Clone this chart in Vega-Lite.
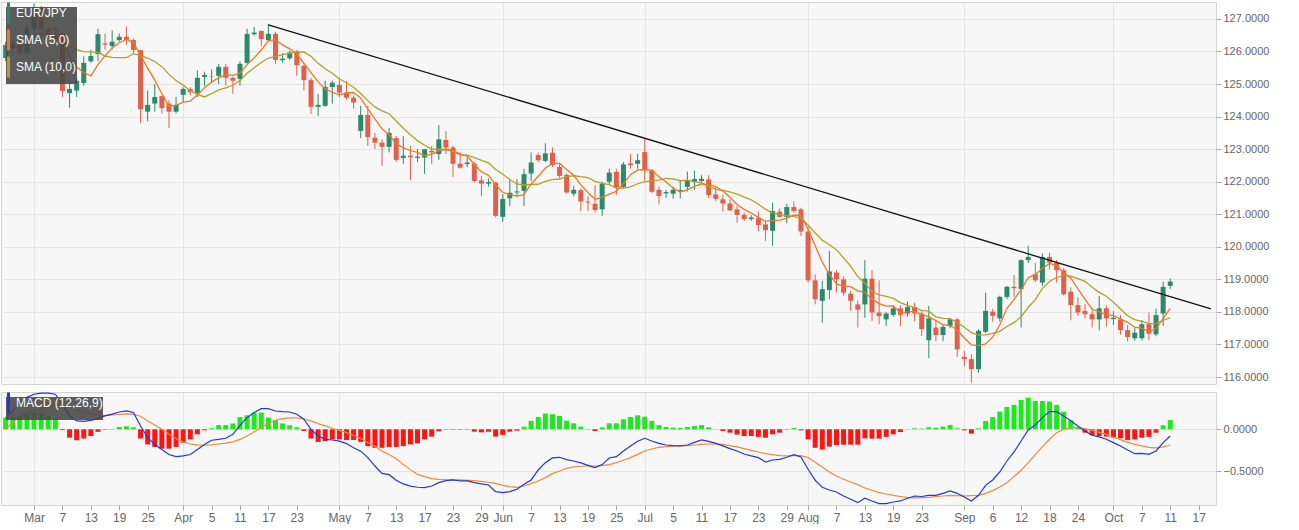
{
  "$schema": "https://vega.github.io/schema/vega-lite/v6.json",
  "background": "white",
  "padding": {"left": 0, "top": 1, "right": 0, "bottom": 0},
  "spacing": 8,
  "bounds": "flush",
  "config": {
    "font": "Liberation Sans",
    "view": {"fill": "#f7f7f7", "stroke": "#d4d4d4", "strokeWidth": 1},
    "axis": {"labelColor": "#666666", "labelFontSize": 12, "labelFont": "Liberation Sans", "tickColor": "#aaaaaa", "domain": false, "gridColor": "#e4e4e4", "title": null, "tickSize": 5, "labelPadding": 2},
    "legend": {"titleFontSize": 0}
  },
  "datasets": {
    "candles": [
      {"i":-4,"o":125.8,"h":126.3,"l":125.7,"c":126.2,"m":0.139,"s":0.0,"hg":0.139},
      {"i":-3,"o":126.1,"h":126.4,"l":125.9,"c":126.25,"m":0.22,"s":0.08,"hg":0.14},
      {"i":-2,"o":126.2,"h":126.35,"l":125.85,"c":125.95,"m":0.32,"s":0.16,"hg":0.16},
      {"i":-1,"o":125.95,"h":126.85,"l":125.9,"c":126.7,"m":0.38,"s":0.2,"hg":0.18},
      {"i":0,"o":126.7,"h":127.47,"l":126.6,"c":127.35,"m":0.417,"s":0.22,"hg":0.2},
      {"i":1,"o":127.35,"h":127.4,"l":126.65,"c":126.7,"m":0.43,"s":0.24,"hg":0.19},
      {"i":2,"o":126.7,"h":126.8,"l":126.4,"c":126.5,"m":0.43,"s":0.27,"hg":0.16},
      {"i":3,"o":126.53,"h":126.72,"l":126.3,"c":126.38,"m":0.417,"s":0.29,"hg":0.127},
      {"i":4,"o":126.54,"h":126.6,"l":124.6,"c":124.79,"m":0.3,"s":0.29,"hg":-0.01},
      {"i":5,"o":124.72,"h":125.1,"l":124.27,"c":124.85,"m":0.16,"s":0.26,"hg":-0.1},
      {"i":6,"o":124.8,"h":125.2,"l":124.6,"c":125.1,"m":0.1,"s":0.23,"hg":-0.13},
      {"i":7,"o":125.03,"h":125.85,"l":124.95,"c":125.65,"m":0.095,"s":0.21,"hg":-0.11},
      {"i":8,"o":125.7,"h":126.05,"l":125.65,"c":125.86,"m":0.107,"s":0.19,"hg":-0.08},
      {"i":9,"o":125.92,"h":126.7,"l":125.7,"c":126.53,"m":0.13,"s":0.17,"hg":-0.03},
      {"i":10,"o":126.25,"h":126.55,"l":126.05,"c":126.21,"m":0.16,"s":0.165,"hg":-0.005},
      {"i":11,"o":126.17,"h":126.65,"l":126.05,"c":126.3,"m":0.18,"s":0.17,"hg":0.005},
      {"i":12,"o":126.35,"h":126.55,"l":126.3,"c":126.45,"m":0.206,"s":0.178,"hg":0.028},
      {"i":13,"o":126.45,"h":126.77,"l":126.2,"c":126.35,"m":0.22,"s":0.184,"hg":0.036},
      {"i":14,"o":126.35,"h":126.4,"l":125.95,"c":126.05,"m":0.2,"s":0.18,"hg":0.024},
      {"i":15,"o":126.04,"h":126.05,"l":123.8,"c":124.23,"m":0.04,"s":0.155,"hg":-0.11},
      {"i":16,"o":124.15,"h":124.8,"l":123.85,"c":124.36,"m":-0.1,"s":0.1,"hg":-0.18},
      {"i":17,"o":124.4,"h":125.0,"l":124.15,"c":124.6,"m":-0.18,"s":0.05,"hg":-0.21},
      {"i":18,"o":124.63,"h":124.65,"l":124.1,"c":124.26,"m":-0.24,"s":0.0,"hg":-0.23},
      {"i":19,"o":124.4,"h":124.5,"l":123.65,"c":124.15,"m":-0.3,"s":-0.06,"hg":-0.23},
      {"i":20,"o":124.15,"h":124.6,"l":124.1,"c":124.36,"m":-0.325,"s":-0.11,"hg":-0.21},
      {"i":21,"o":124.67,"h":124.9,"l":124.45,"c":124.85,"m":-0.317,"s":-0.15,"hg":-0.16},
      {"i":22,"o":124.85,"h":124.9,"l":124.65,"c":124.75,"m":-0.3,"s":-0.175,"hg":-0.12},
      {"i":23,"o":124.73,"h":125.42,"l":124.6,"c":125.19,"m":-0.24,"s":-0.185,"hg":-0.06},
      {"i":24,"o":125.22,"h":125.38,"l":124.95,"c":125.28,"m":-0.18,"s":-0.19,"hg":-0.012},
      {"i":25,"o":125.22,"h":125.45,"l":125.05,"c":125.23,"m":-0.13,"s":-0.185,"hg":0.012},
      {"i":26,"o":125.25,"h":125.62,"l":125.0,"c":125.53,"m":-0.12,"s":-0.175,"hg":0.05},
      {"i":27,"o":125.53,"h":125.62,"l":124.95,"c":125.19,"m":-0.107,"s":-0.165,"hg":0.05},
      {"i":28,"o":125.19,"h":125.22,"l":124.7,"c":125.1,"m":-0.06,"s":-0.15,"hg":0.07},
      {"i":29,"o":125.16,"h":125.7,"l":124.95,"c":125.62,"m":0.048,"s":-0.12,"hg":0.147},
      {"i":30,"o":125.65,"h":126.7,"l":125.6,"c":126.54,"m":0.139,"s":-0.08,"hg":0.167},
      {"i":31,"o":126.53,"h":126.75,"l":126.48,"c":126.58,"m":0.2,"s":-0.03,"hg":0.2},
      {"i":32,"o":126.63,"h":126.65,"l":126.17,"c":126.38,"m":0.246,"s":0.02,"hg":0.2},
      {"i":33,"o":126.35,"h":126.85,"l":126.3,"c":126.54,"m":0.246,"s":0.07,"hg":0.14},
      {"i":34,"o":126.54,"h":126.6,"l":125.62,"c":125.74,"m":0.218,"s":0.107,"hg":0.11},
      {"i":35,"o":125.73,"h":125.95,"l":125.65,"c":125.78,"m":0.21,"s":0.127,"hg":0.07},
      {"i":36,"o":125.79,"h":126.02,"l":125.73,"c":125.97,"m":0.206,"s":0.135,"hg":0.048},
      {"i":37,"o":126.0,"h":126.05,"l":125.25,"c":125.58,"m":0.18,"s":0.135,"hg":0.024},
      {"i":38,"o":125.56,"h":125.6,"l":124.8,"c":125.12,"m":0.12,"s":0.123,"hg":-0.02},
      {"i":39,"o":125.12,"h":125.19,"l":124.08,"c":124.3,"m":0.0,"s":0.1,"hg":-0.11},
      {"i":40,"o":124.3,"h":124.7,"l":124.02,"c":124.36,"m":-0.08,"s":0.067,"hg":-0.15},
      {"i":41,"o":124.33,"h":125.1,"l":124.3,"c":124.91,"m":-0.12,"s":0.04,"hg":-0.14},
      {"i":42,"o":124.91,"h":125.1,"l":124.4,"c":125.04,"m":-0.127,"s":0.012,"hg":-0.12},
      {"i":43,"o":124.97,"h":125.2,"l":124.6,"c":124.74,"m":-0.14,"s":-0.012,"hg":-0.12},
      {"i":44,"o":124.74,"h":125.1,"l":124.52,"c":124.58,"m":-0.17,"s":-0.04,"hg":-0.127},
      {"i":45,"o":124.58,"h":124.65,"l":124.25,"c":124.43,"m":-0.22,"s":-0.07,"hg":-0.127},
      {"i":46,"o":123.56,"h":124.33,"l":123.34,"c":124.05,"m":-0.26,"s":-0.11,"hg":-0.15},
      {"i":47,"o":124.05,"h":124.33,"l":123.1,"c":123.37,"m":-0.337,"s":-0.16,"hg":-0.2},
      {"i":48,"o":123.35,"h":123.5,"l":123.0,"c":123.2,"m":-0.437,"s":-0.2,"hg":-0.22},
      {"i":49,"o":123.2,"h":123.3,"l":122.48,"c":123.07,"m":-0.524,"s":-0.26,"hg":-0.22},
      {"i":50,"o":123.07,"h":123.65,"l":122.9,"c":123.5,"m":-0.54,"s":-0.3,"hg":-0.21},
      {"i":51,"o":123.34,"h":123.4,"l":122.6,"c":122.67,"m":-0.607,"s":-0.35,"hg":-0.21},
      {"i":52,"o":122.73,"h":123.4,"l":122.55,"c":122.8,"m":-0.65,"s":-0.42,"hg":-0.2},
      {"i":53,"o":122.8,"h":123.1,"l":122.05,"c":122.75,"m":-0.677,"s":-0.48,"hg":-0.18},
      {"i":54,"o":122.73,"h":123.0,"l":122.6,"c":122.77,"m":-0.69,"s":-0.536,"hg":-0.167},
      {"i":55,"o":122.74,"h":123.0,"l":122.24,"c":123.0,"m":-0.694,"s":-0.563,"hg":-0.12},
      {"i":56,"o":122.95,"h":123.1,"l":122.55,"c":122.9,"m":-0.675,"s":-0.587,"hg":-0.087},
      {"i":57,"o":122.85,"h":123.74,"l":122.67,"c":123.3,"m":-0.635,"s":-0.595,"hg":-0.024},
      {"i":58,"o":123.28,"h":123.55,"l":122.85,"c":123.05,"m":-0.611,"s":-0.6,"hg":-0.004},
      {"i":59,"o":123.05,"h":123.1,"l":122.15,"c":122.55,"m":-0.603,"s":-0.603,"hg":-0.005},
      {"i":60,"o":122.55,"h":122.9,"l":122.4,"c":122.43,"m":-0.615,"s":-0.603,"hg":-0.005},
      {"i":61,"o":122.54,"h":122.75,"l":122.45,"c":122.59,"m":-0.615,"s":-0.607,"hg":-0.004},
      {"i":62,"o":122.55,"h":122.6,"l":121.98,"c":122.02,"m":-0.635,"s":-0.61,"hg":-0.028},
      {"i":63,"o":122.04,"h":122.18,"l":121.56,"c":121.94,"m":-0.65,"s":-0.62,"hg":-0.036},
      {"i":64,"o":121.94,"h":122.1,"l":121.85,"c":121.99,"m":-0.663,"s":-0.63,"hg":-0.028},
      {"i":65,"o":121.97,"h":122.0,"l":120.9,"c":120.95,"m":-0.742,"s":-0.643,"hg":-0.087},
      {"i":66,"o":120.92,"h":121.62,"l":120.77,"c":121.47,"m":-0.754,"s":-0.667,"hg":-0.067},
      {"i":67,"o":121.49,"h":122.05,"l":121.25,"c":121.66,"m":-0.742,"s":-0.683,"hg":-0.028},
      {"i":68,"o":121.67,"h":122.08,"l":121.55,"c":121.7,"m":-0.714,"s":-0.69,"hg":-0.016},
      {"i":69,"o":121.72,"h":122.4,"l":121.25,"c":122.23,"m":-0.655,"s":-0.675,"hg":0.032},
      {"i":70,"o":122.25,"h":122.9,"l":122.02,"c":122.59,"m":-0.603,"s":-0.647,"hg":0.1},
      {"i":71,"o":122.82,"h":122.9,"l":122.6,"c":122.66,"m":-0.484,"s":-0.615,"hg":0.147},
      {"i":72,"o":122.64,"h":123.18,"l":122.6,"c":122.87,"m":-0.397,"s":-0.575,"hg":0.187},
      {"i":73,"o":122.89,"h":123.05,"l":122.45,"c":122.51,"m":-0.341,"s":-0.528,"hg":0.18},
      {"i":74,"o":122.45,"h":122.55,"l":122.1,"c":122.18,"m":-0.333,"s":-0.496,"hg":0.16},
      {"i":75,"o":122.21,"h":122.25,"l":121.63,"c":121.67,"m":-0.361,"s":-0.464,"hg":0.103},
      {"i":76,"o":121.63,"h":121.88,"l":121.55,"c":121.75,"m":-0.377,"s":-0.448,"hg":0.071},
      {"i":77,"o":121.74,"h":121.8,"l":121.1,"c":121.39,"m":-0.4,"s":-0.44,"hg":0.032},
      {"i":78,"o":121.39,"h":121.55,"l":121.1,"c":121.36,"m":-0.429,"s":-0.437,"hg":0.004},
      {"i":79,"o":121.32,"h":121.9,"l":121.05,"c":121.13,"m":-0.456,"s":-0.437,"hg":-0.02},
      {"i":80,"o":121.15,"h":122.0,"l":120.95,"c":121.94,"m":-0.42,"s":-0.433,"hg":0.024},
      {"i":81,"o":122.0,"h":122.4,"l":121.9,"c":122.28,"m":-0.341,"s":-0.42,"hg":0.071},
      {"i":82,"o":122.3,"h":122.4,"l":121.6,"c":121.82,"m":-0.325,"s":-0.397,"hg":0.071},
      {"i":83,"o":121.84,"h":122.6,"l":121.8,"c":122.53,"m":-0.258,"s":-0.369,"hg":0.12},
      {"i":84,"o":122.56,"h":122.86,"l":122.4,"c":122.51,"m":-0.198,"s":-0.337,"hg":0.147},
      {"i":85,"o":122.55,"h":122.86,"l":122.4,"c":122.66,"m":-0.143,"s":-0.298,"hg":0.167},
      {"i":86,"o":122.91,"h":123.33,"l":122.02,"c":122.35,"m":-0.107,"s":-0.258,"hg":0.15},
      {"i":87,"o":122.35,"h":122.38,"l":121.65,"c":121.69,"m":-0.139,"s":-0.234,"hg":0.1},
      {"i":88,"o":121.75,"h":121.85,"l":121.3,"c":121.56,"m":-0.167,"s":-0.214,"hg":0.05},
      {"i":89,"o":121.64,"h":121.75,"l":121.5,"c":121.68,"m":-0.187,"s":-0.206,"hg":0.028},
      {"i":90,"o":121.63,"h":121.85,"l":121.48,"c":121.75,"m":-0.194,"s":-0.202,"hg":0.02},
      {"i":91,"o":121.7,"h":122.05,"l":121.48,"c":121.74,"m":-0.198,"s":-0.198,"hg":0.016},
      {"i":92,"o":121.84,"h":122.31,"l":121.7,"c":122.02,"m":-0.187,"s":-0.194,"hg":0.028},
      {"i":93,"o":122.0,"h":122.34,"l":121.75,"c":122.08,"m":-0.155,"s":-0.187,"hg":0.04},
      {"i":94,"o":122.02,"h":122.2,"l":121.98,"c":122.09,"m":-0.127,"s":-0.179,"hg":0.05},
      {"i":95,"o":122.07,"h":122.2,"l":121.5,"c":121.59,"m":-0.143,"s":-0.175,"hg":0.024},
      {"i":96,"o":121.61,"h":121.85,"l":121.4,"c":121.47,"m":-0.167,"s":-0.175,"hg":0.003},
      {"i":97,"o":121.46,"h":121.6,"l":121.08,"c":121.33,"m":-0.198,"s":-0.179,"hg":-0.02},
      {"i":98,"o":121.33,"h":121.45,"l":121.1,"c":121.12,"m":-0.23,"s":-0.194,"hg":-0.04},
      {"i":99,"o":121.15,"h":121.25,"l":120.74,"c":120.98,"m":-0.258,"s":-0.21,"hg":-0.063},
      {"i":100,"o":120.98,"h":121.05,"l":120.8,"c":120.85,"m":-0.294,"s":-0.23,"hg":-0.08},
      {"i":101,"o":120.85,"h":120.97,"l":120.8,"c":120.9,"m":-0.317,"s":-0.25,"hg":-0.08},
      {"i":102,"o":120.88,"h":121.08,"l":120.47,"c":120.67,"m":-0.337,"s":-0.27,"hg":-0.09},
      {"i":103,"o":120.69,"h":120.8,"l":120.18,"c":120.51,"m":-0.389,"s":-0.29,"hg":-0.1},
      {"i":104,"o":120.49,"h":121.36,"l":120.03,"c":121.1,"m":-0.365,"s":-0.302,"hg":-0.06},
      {"i":105,"o":121.08,"h":121.18,"l":120.9,"c":120.92,"m":-0.357,"s":-0.313,"hg":-0.04},
      {"i":106,"o":120.92,"h":121.32,"l":120.72,"c":121.22,"m":-0.333,"s":-0.317,"hg":-0.004},
      {"i":107,"o":121.22,"h":121.39,"l":121.05,"c":121.1,"m":-0.302,"s":-0.313,"hg":0.016},
      {"i":108,"o":121.15,"h":121.2,"l":120.33,"c":120.47,"m":-0.33,"s":-0.313,"hg":-0.012},
      {"i":109,"o":120.47,"h":120.6,"l":118.9,"c":118.97,"m":-0.476,"s":-0.337,"hg":-0.12},
      {"i":110,"o":118.97,"h":119.15,"l":118.23,"c":118.39,"m":-0.607,"s":-0.393,"hg":-0.22},
      {"i":111,"o":118.34,"h":118.95,"l":117.67,"c":118.7,"m":-0.69,"s":-0.448,"hg":-0.24},
      {"i":112,"o":118.67,"h":119.87,"l":118.39,"c":119.24,"m":-0.722,"s":-0.508,"hg":-0.206},
      {"i":113,"o":119.21,"h":119.28,"l":118.6,"c":119.0,"m":-0.746,"s":-0.556,"hg":-0.187},
      {"i":114,"o":119.0,"h":119.1,"l":118.5,"c":118.59,"m":-0.794,"s":-0.595,"hg":-0.183},
      {"i":115,"o":118.56,"h":118.65,"l":118.03,"c":118.34,"m":-0.833,"s":-0.627,"hg":-0.183},
      {"i":116,"o":118.23,"h":118.35,"l":117.52,"c":118.07,"m":-0.873,"s":-0.659,"hg":-0.183},
      {"i":117,"o":118.23,"h":119.59,"l":117.82,"c":119.02,"m":-0.821,"s":-0.698,"hg":-0.107},
      {"i":118,"o":119.02,"h":119.28,"l":117.72,"c":117.98,"m":-0.853,"s":-0.726,"hg":-0.111},
      {"i":119,"o":117.98,"h":118.97,"l":117.62,"c":117.87,"m":-0.885,"s":-0.754,"hg":-0.111},
      {"i":120,"o":117.77,"h":118.0,"l":117.57,"c":117.95,"m":-0.885,"s":-0.77,"hg":-0.09},
      {"i":121,"o":117.91,"h":118.2,"l":117.85,"c":118.11,"m":-0.865,"s":-0.786,"hg":-0.06},
      {"i":122,"o":118.11,"h":118.2,"l":117.57,"c":117.91,"m":-0.853,"s":-0.8,"hg":-0.032},
      {"i":123,"o":117.95,"h":118.32,"l":117.85,"c":118.15,"m":-0.821,"s":-0.813,"hg":0.002},
      {"i":124,"o":118.15,"h":118.28,"l":117.72,"c":117.95,"m":-0.794,"s":-0.817,"hg":0.012},
      {"i":125,"o":117.95,"h":118.02,"l":117.26,"c":117.47,"m":-0.8,"s":-0.813,"hg":0.008},
      {"i":126,"o":117.13,"h":118.18,"l":116.58,"c":117.8,"m":-0.786,"s":-0.81,"hg":0.024},
      {"i":127,"o":117.52,"h":117.75,"l":117.1,"c":117.29,"m":-0.786,"s":-0.8,"hg":0.02},
      {"i":128,"o":117.29,"h":117.6,"l":117.1,"c":117.54,"m":-0.762,"s":-0.794,"hg":0.032},
      {"i":129,"o":117.57,"h":117.8,"l":117.5,"c":117.77,"m":-0.734,"s":-0.786,"hg":0.052},
      {"i":130,"o":117.77,"h":117.82,"l":116.62,"c":116.85,"m":-0.762,"s":-0.79,"hg":0.012},
      {"i":131,"o":116.62,"h":116.8,"l":116.34,"c":116.55,"m":-0.806,"s":-0.794,"hg":-0.012},
      {"i":132,"o":116.55,"h":116.7,"l":115.83,"c":116.24,"m":-0.853,"s":-0.79,"hg":-0.052},
      {"i":133,"o":116.24,"h":117.47,"l":116.13,"c":117.42,"m":-0.786,"s":-0.786,"hg":0.012},
      {"i":134,"o":117.39,"h":118.59,"l":117.35,"c":118.03,"m":-0.667,"s":-0.762,"hg":0.1},
      {"i":135,"o":118.01,"h":118.1,"l":117.7,"c":117.88,"m":-0.603,"s":-0.73,"hg":0.147},
      {"i":136,"o":117.8,"h":118.5,"l":117.7,"c":118.46,"m":-0.508,"s":-0.687,"hg":0.21},
      {"i":137,"o":118.46,"h":118.8,"l":118.4,"c":118.77,"m":-0.377,"s":-0.635,"hg":0.266},
      {"i":138,"o":118.77,"h":119.14,"l":118.46,"c":118.73,"m":-0.27,"s":-0.563,"hg":0.29},
      {"i":139,"o":118.7,"h":119.62,"l":117.52,"c":119.59,"m":-0.139,"s":-0.488,"hg":0.35},
      {"i":140,"o":119.59,"h":120.03,"l":119.5,"c":119.69,"m":-0.008,"s":-0.397,"hg":0.377},
      {"i":141,"o":119.16,"h":119.51,"l":118.92,"c":118.97,"m":0.052,"s":-0.302,"hg":0.337},
      {"i":142,"o":118.9,"h":119.8,"l":118.8,"c":119.69,"m":0.139,"s":-0.206,"hg":0.337},
      {"i":143,"o":119.69,"h":119.82,"l":119.3,"c":119.51,"m":0.21,"s":-0.119,"hg":0.33},
      {"i":144,"o":119.51,"h":119.6,"l":118.9,"c":119.28,"m":0.21,"s":-0.04,"hg":0.29},
      {"i":145,"o":119.28,"h":119.35,"l":118.5,"c":118.54,"m":0.159,"s":0.0,"hg":0.21},
      {"i":146,"o":118.62,"h":118.75,"l":117.74,"c":118.21,"m":0.103,"s":0.02,"hg":0.107},
      {"i":147,"o":118.21,"h":118.45,"l":117.88,"c":117.98,"m":0.04,"s":0.02,"hg":0.02},
      {"i":148,"o":118.03,"h":118.25,"l":117.8,"c":117.93,"m":-0.02,"s":0.008,"hg":-0.04},
      {"i":149,"o":117.93,"h":118.05,"l":117.52,"c":117.77,"m":-0.071,"s":-0.012,"hg":-0.07},
      {"i":150,"o":117.77,"h":118.49,"l":117.43,"c":118.11,"m":-0.091,"s":-0.036,"hg":-0.08},
      {"i":151,"o":118.11,"h":118.2,"l":117.55,"c":117.8,"m":-0.119,"s":-0.06,"hg":-0.087},
      {"i":152,"o":117.78,"h":118.02,"l":117.6,"c":117.82,"m":-0.159,"s":-0.095,"hg":-0.1},
      {"i":153,"o":117.77,"h":117.9,"l":117.3,"c":117.44,"m":-0.198,"s":-0.123,"hg":-0.107},
      {"i":154,"o":117.44,"h":117.6,"l":117.09,"c":117.23,"m":-0.246,"s":-0.155,"hg":-0.127},
      {"i":155,"o":117.19,"h":117.5,"l":117.12,"c":117.36,"m":-0.29,"s":-0.179,"hg":-0.12},
      {"i":156,"o":117.19,"h":117.75,"l":117.12,"c":117.62,"m":-0.286,"s":-0.198,"hg":-0.1},
      {"i":157,"o":117.62,"h":117.98,"l":117.13,"c":117.33,"m":-0.298,"s":-0.214,"hg":-0.09},
      {"i":158,"o":117.31,"h":118.1,"l":117.25,"c":117.9,"m":-0.258,"s":-0.222,"hg":-0.04},
      {"i":159,"o":117.95,"h":118.93,"l":117.57,"c":118.77,"m":-0.159,"s":-0.21,"hg":0.048},
      {"i":160,"o":118.8,"h":119.03,"l":118.7,"c":118.93,"m":-0.08,"s":-0.187,"hg":0.11}
    ],
    "trend": [
      {"i": 33, "p": 126.82},
      {"i": 165.74, "p": 118.09}
    ]
  },
  "resolve": {"scale": {"stroke": "independent", "color": "independent"}, "legend": {"stroke": "independent"}},
  "vconcat": [
    {
      "width": 1215,
      "height": 382,
      "data": {"name": "candles"},
      "transform": [
        {"window": [{"op": "mean", "field": "c", "as": "sma5"}], "frame": [-4, 0], "sort": [{"field": "i"}]},
        {"window": [{"op": "mean", "field": "c", "as": "sma10"}], "frame": [-9, 0], "sort": [{"field": "i"}]}
      ],
      "layer": [
        {
          "mark": {"type": "rule", "strokeWidth": 1, "clip": true},
          "encoding": {
            "x": {"field": "i", "type": "quantitative", "scale": {"domain": [-3.95, 165.74], "nice": false, "zero": false},
                  "axis": {"orient": "bottom", "values": [0, 21, 43, 66, 86, 109, 131, 152], "labels": false, "ticks": false, "domain": false, "grid": true}},
            "y": {"field": "l", "type": "quantitative", "scale": {"domain": [115.785, 127.52], "nice": false, "zero": false},
                  "axis": {"orient": "right", "values": [116, 117, 118, 119, 120, 121, 122, 123, 124, 125, 126, 127], "format": ".4f", "grid": true, "labelOverlap": false, "labelFontSize": 11}},
            "y2": {"field": "h"},
            "color": {"condition": {"test": "datum.c >= datum.o", "value": "#2b8a6b"}, "value": "#e0604a"}
          }
        },
        {
          "mark": {"type": "bar", "width": 5, "clip": true},
          "encoding": {
            "x": {"field": "i", "type": "quantitative",
                  "axis": {"orient": "bottom", "values": [0, 21, 43, 66, 86, 109, 131, 152], "labels": false, "ticks": false, "domain": false, "grid": true}},
            "y": {"field": "o", "type": "quantitative",
                  "axis": {"orient": "right", "values": [116, 117, 118, 119, 120, 121, 122, 123, 124, 125, 126, 127], "format": ".4f", "grid": true, "labelOverlap": false, "labelFontSize": 11}},
            "y2": {"field": "c"},
            "color": {"condition": {"test": "datum.c >= datum.o", "value": "#2b8a6b"}, "value": "#e0604a"}
          }
        },
        {
          "mark": {"type": "line", "strokeWidth": 1.3, "clip": true},
          "encoding": {
            "x": {"field": "i", "type": "quantitative",
                  "axis": {"orient": "bottom", "values": [0, 21, 43, 66, 86, 109, 131, 152], "labels": false, "ticks": false, "domain": false, "grid": true}},
            "y": {"field": "sma10", "type": "quantitative",
                  "axis": {"orient": "right", "values": [116, 117, 118, 119, 120, 121, 122, 123, 124, 125, 126, 127], "format": ".4f", "grid": true, "labelOverlap": false, "labelFontSize": 11}},
            "stroke": {"datum": "SMA (10,0)", "type": "nominal",
              "scale": {"domain": ["EUR/JPY", "SMA (5,0)", "SMA (10,0)"], "range": ["#2b8a6b", "#f07820", "#b4a028"]},
              "legend": {"orient": "top-left", "offset": 5, "title": null, "fillColor": "rgba(70,70,70,0.88)", "padding": 0,
                "labelColor": "#ffffff", "labelFontSize": 12, "labelFont": "Liberation Sans",
                "symbolType": "M-1,-3L-1,3", "symbolSize": 49, "symbolStrokeWidth": 3, "symbolFillColor": "transparent", "symbolOpacity": 1,
                "rowPadding": -7, "labelOffset": -2, "labelExpr": "datum.label + '\u00a0\u00a0\u00a0\u00a0'"}}
          }
        },
        {
          "mark": {"type": "line", "strokeWidth": 1.3, "clip": true},
          "encoding": {
            "x": {"field": "i", "type": "quantitative",
                  "axis": {"orient": "bottom", "values": [0, 21, 43, 66, 86, 109, 131, 152], "labels": false, "ticks": false, "domain": false, "grid": true}},
            "y": {"field": "sma5", "type": "quantitative",
                  "axis": {"orient": "right", "values": [116, 117, 118, 119, 120, 121, 122, 123, 124, 125, 126, 127], "format": ".4f", "grid": true, "labelOverlap": false, "labelFontSize": 11}},
            "stroke": {"datum": "SMA (5,0)", "type": "nominal"}
          }
        },
        {
          "data": {"name": "trend"},
          "mark": {"type": "line", "color": "#111111", "strokeWidth": 1.3, "clip": true},
          "encoding": {
            "x": {"field": "i", "type": "quantitative",
                  "axis": {"orient": "bottom", "values": [0, 21, 43, 66, 86, 109, 131, 152], "labels": false, "ticks": false, "domain": false, "grid": true}},
            "y": {"field": "p", "type": "quantitative",
                  "axis": {"orient": "right", "values": [116, 117, 118, 119, 120, 121, 122, 123, 124, 125, 126, 127], "format": ".4f", "grid": true, "labelOverlap": false, "labelFontSize": 11}}
          }
        }
      ]
    },
    {
      "width": 1215,
      "height": 113,
      "data": {"name": "candles"},
      "resolve": {"axis": {"x": "independent"}},
      "layer": [
        {
          "mark": {"type": "bar", "width": 5, "clip": true},
          "encoding": {
            "x": {"field": "i", "type": "quantitative", "scale": {"domain": [-3.95, 165.74], "nice": false, "zero": false},
                  "axis": {"orient": "top", "values": [0, 21, 43, 66, 86, 109, 131, 152], "labels": false, "ticks": false, "domain": false, "grid": true}},
            "y": {"field": "hg", "type": "quantitative", "scale": {"domain": [-0.901, 0.444], "nice": false, "zero": false},
                  "axis": {"orient": "right", "values": [0, -0.5], "format": ".4f", "grid": true, "labelOverlap": false, "labelFontSize": 11}},
            "y2": {"datum": 0},
            "color": {"condition": {"test": "datum.hg >= 0", "value": "#1fe81f"}, "value": "#ff1414"}
          }
        },
        {
          "mark": {"type": "line", "color": "#f08a3c", "strokeWidth": 1.2, "clip": true},
          "encoding": {
            "x": {"field": "i", "type": "quantitative",
                  "axis": {"orient": "bottom", "grid": false, "labelOverlap": false, "labelFlush": false,
                    "values": [0,4,8,12,16,21,25,29,33,37,43,47,51,55,59,63,66,70,74,78,82,86,90,94,98,102,106,109,113,117,121,125,131,135,139,143,147,152,156,160,164],
                    "labelExpr": "['Mar','7','13','19','25','Apr','5','11','17','23','May','7','13','17','23','29','Jun','7','13','19','25','Jul','5','11','17','23','29','Aug','7','13','19','23','Sep','6','12','18','24','Oct','7','11','17'][indexof([0,4,8,12,16,21,25,29,33,37,43,47,51,55,59,63,66,70,74,78,82,86,90,94,98,102,106,109,113,117,121,125,131,135,139,143,147,152,156,160,164], datum.value)]"}},
            "y": {"field": "s", "type": "quantitative",
                  "axis": {"orient": "right", "values": [0, -0.5], "format": ".4f", "grid": true, "labelOverlap": false, "labelFontSize": 11}}
          }
        },
        {
          "mark": {"type": "line", "strokeWidth": 1.2, "clip": true},
          "encoding": {
            "x": {"field": "i", "type": "quantitative", "axis": null},
            "y": {"field": "m", "type": "quantitative",
                  "axis": {"orient": "right", "values": [0, -0.5], "format": ".4f", "grid": true, "labelOverlap": false, "labelFontSize": 11}},
            "stroke": {"datum": "MACD (12,26,9)", "type": "nominal",
              "scale": {"domain": ["MACD (12,26,9)"], "range": ["#2438d0"]},
              "legend": {"orient": "top-left", "offset": 5, "title": null, "fillColor": "rgba(70,70,70,0.88)", "padding": 0,
                "labelColor": "#ffffff", "labelFontSize": 12, "labelFont": "Liberation Sans",
                "symbolType": "M-1,-3L-1,3", "symbolSize": 49, "symbolStrokeWidth": 3, "symbolFillColor": "transparent", "symbolOpacity": 1,
                "labelOffset": -2, "labelExpr": "datum.label + '\u00a0\u00a0\u00a0\u00a0'"}}
          }
        }
      ]
    }
  ]
}
